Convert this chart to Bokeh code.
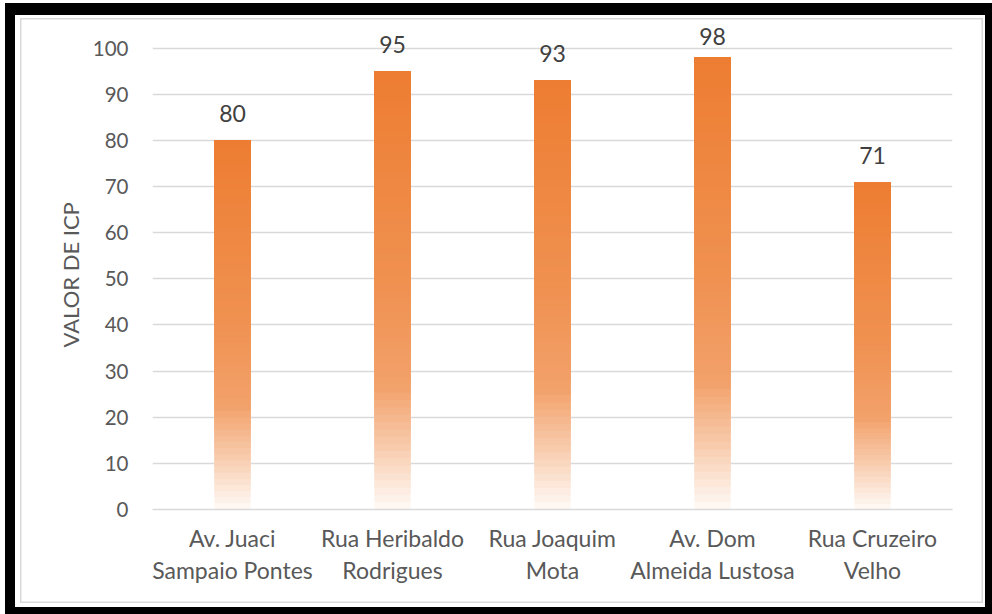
from bokeh.plotting import figure
from bokeh.models import FactorRange, Range1d, LabelSet, ColumnDataSource, Title
from bokeh.core.properties import value
from bokeh.embed import file_html
from bokeh.resources import INLINE

# ---- data ----
label_line1 = ["Av. Juaci", "Rua Heribaldo", "Rua Joaquim", "Av. Dom", "Rua Cruzeiro"]
label_line2 = ["Sampaio Pontes", "Rodrigues", "Mota", "Almeida Lustosa", "Velho"]
icp_values = [80, 95, 93, 98, 71]
y_ticks = [0, 10, 20, 30, 40, 50, 60, 70, 80, 90, 100]
y_axis_title = "VALOR DE ICP"

FONT = "Lato"
BASE = (237, 125, 49)

# nested factor: (second line, first line) -> first line drawn next to the axis
factors = list(zip(label_line2, label_line1))

# gradient profile: (fraction from top, opacity of orange over white)
profile = [(0.0, 1.0), (0.5, 0.84), (0.72, 0.72), (0.85, 0.42), (1.0, 0.04)]

def alpha_at(f):
    for (f0, a0), (f1, a1) in zip(profile[:-1], profile[1:]):
        if f0 <= f <= f1:
            t = (f - f0) / (f1 - f0)
            return a0 + t * (a1 - a0)
    return profile[-1][1]

def color_at(f):
    a = alpha_at(f)
    r, g, b = (round(255 - a * (255 - c)) for c in BASE)
    return "#%02x%02x%02x" % (r, g, b)

p = figure(width=992, height=614,
           x_range=FactorRange(*factors, range_padding=0, group_padding=0, factor_padding=0),
           y_range=Range1d(0, 106), output_backend="svg", toolbar_location=None,
           min_border_left=152, min_border_right=40, min_border_top=20, min_border_bottom=105)
p.background_fill_color = "white"
p.border_fill_alpha = 0
p.outline_line_color = None
p.styles = {"box-shadow": "inset 5px 3px 0 0 white, inset 4px 4px 0 11px black, "
                          "inset 5.5px 3.5px 0 14.5px white, inset 5.5px 3.5px 0 16px #d9d9d9",
            "background-color": "white"}

# gradient bars: slices drawn bottom-up, each from its start to the bar top
N = 60
xs, bots, tops, cols = [], [], [], []
for fac, v in zip(factors, icp_values):
    for k in range(N):
        f_from_top = 1 - (k + 0.5) / N
        xs.append(fac)
        bots.append(v * k / N)
        tops.append(v)
        cols.append(color_at(f_from_top))
p.vbar(x=xs, bottom=bots, top=tops, width=0.225, fill_color=cols, line_color=None)

# value labels (placed above each bar, kept inside the chart top like the original)
label_y = [min(v + 3.9, 100.6) for v in icp_values]
src = ColumnDataSource(dict(x=factors, y=label_y, t=[str(v) for v in icp_values]))
p.add_layout(LabelSet(x="x", y="y", text="t", source=src, text_align="center",
                      text_baseline="alphabetic", text_font=value(FONT), text_font_size="23px",
                      text_color="#404040"))

# axes
p.xgrid.grid_line_color = None
p.ygrid.grid_line_color = "#d9d9d9"
p.ygrid.grid_line_width = 1.5
p.yaxis.ticker = y_ticks
p.yaxis.axis_line_color = None
p.yaxis.major_tick_line_color = None
p.yaxis.minor_tick_line_color = None
p.yaxis.major_label_standoff = 18
p.yaxis.major_label_text_font = FONT
p.yaxis.major_label_text_font_size = "20.5px"
p.yaxis.major_label_text_color = "#595959"

p.add_layout(Title(text=y_axis_title, align="left", offset=162, standoff=11,
                   text_font=FONT, text_font_style="normal", text_font_size="22px",
                   text_color="#595959"), "left")

p.xaxis.axis_line_color = "#d9d9d9"
p.xaxis.axis_line_width = 1.5
p.xaxis.major_tick_line_color = None
p.xaxis.minor_tick_line_color = None
p.xaxis.major_tick_out = 13
p.xaxis.major_label_standoff = 1
p.xaxis.major_label_text_font = FONT
p.xaxis.major_label_text_font_size = "23px"
p.xaxis.major_label_text_color = "#595959"
p.xaxis.group_text_font = FONT
p.xaxis.group_text_font_size = "23px"
p.xaxis.group_text_font_style = "normal"
p.xaxis.group_text_color = "#595959"
p.xaxis.separator_line_color = None

open("out.html", "w").write(file_html(p, INLINE))
